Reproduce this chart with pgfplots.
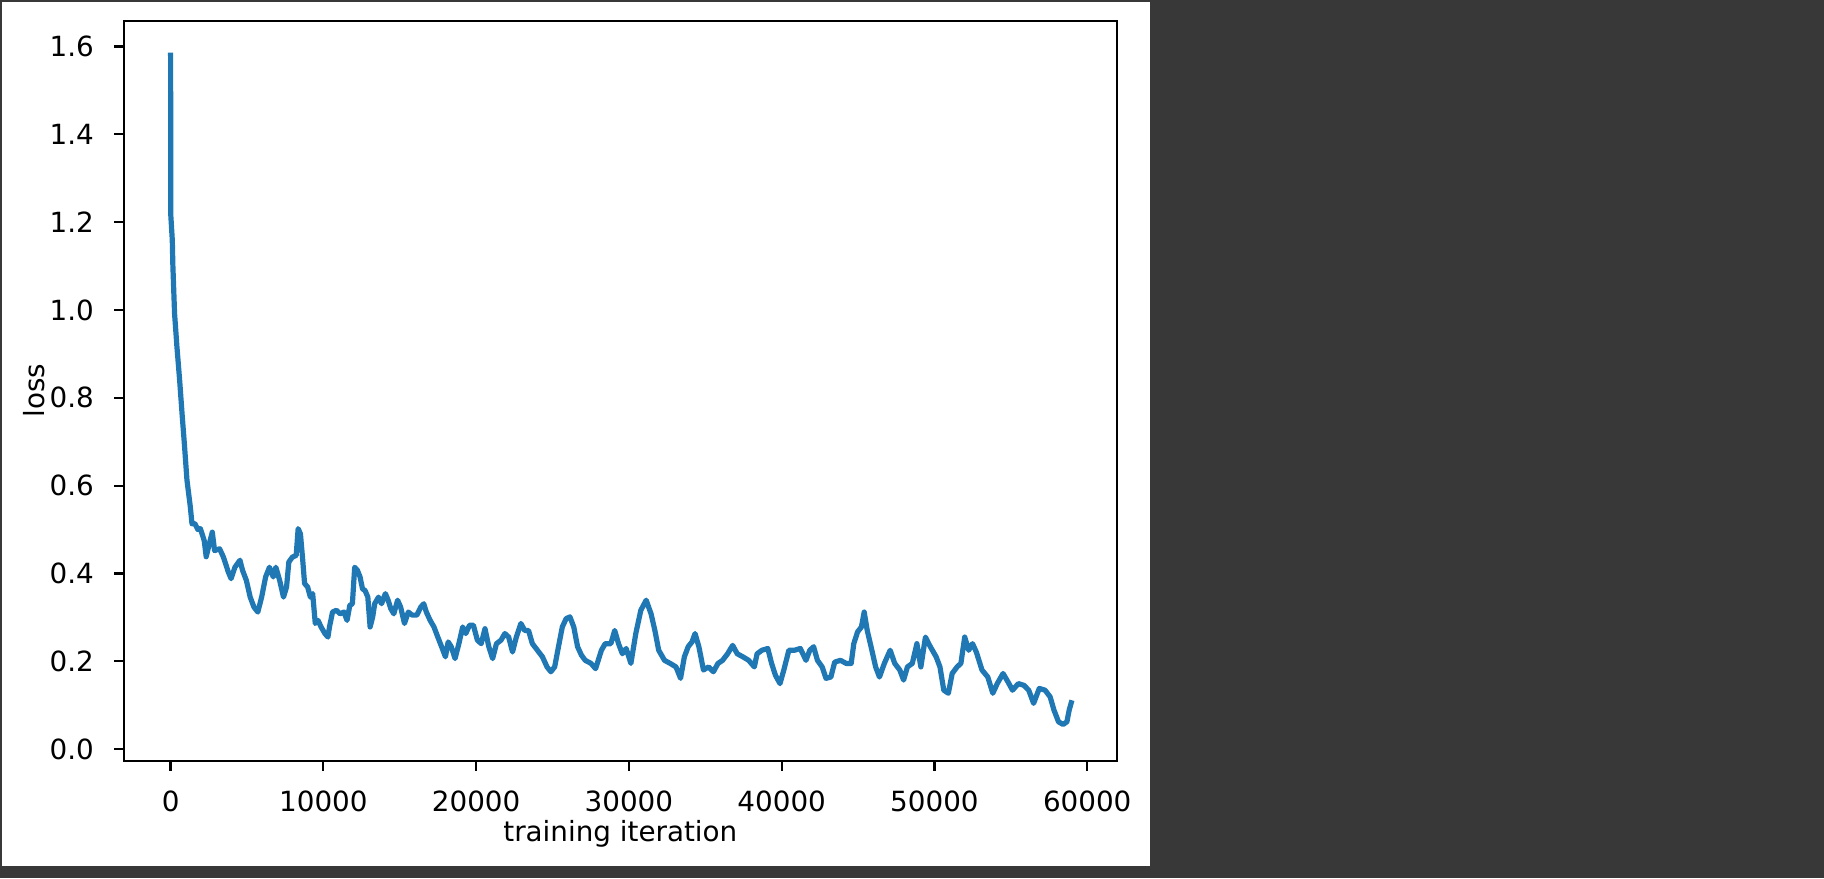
\documentclass[border=0pt]{standalone}
\usepackage{fontspec}
\setmainfont{DejaVu Sans}
\usepackage{pgfplots}
\pgfplotsset{compat=1.18}
\definecolor{bgdark}{HTML}{383838}
\definecolor{mplblue}{HTML}{1F77B4}
\begin{document}
\begin{tikzpicture}
\fill[bgdark] (0pt,0pt) rectangle (912pt,439pt);
\fill[white] (1pt,6pt) rectangle (575pt,438pt);
\begin{axis}[
  at={(62pt,58.5pt)}, anchor=south west,
  width=496.35pt, height=370.15pt, scale only axis,
  xmin=-3050, xmax=61930, ymin=-0.0273, ymax=1.659,
  axis line style={line width=1.1pt},
  tick pos=left, tick align=outside,
  major tick length=4.86pt,
  every tick/.style={black, line width=1.1pt},
  xtick={0,10000,20000,30000,40000,50000,60000},
  ytick={0,0.2,0.4,0.6,0.8,1.0,1.2,1.4,1.6},
  scaled ticks=false,
  /pgf/number format/assume math mode=true,
  xticklabel style={/pgf/number format/1000 sep={}, font=\fontsize{13.9}{16}\selectfont, anchor=north, inner sep=0pt, yshift=-10pt},
  yticklabel style={/pgf/number format/fixed, /pgf/number format/fixed zerofill, /pgf/number format/precision=1, font=\fontsize{13.9}{16}\selectfont, anchor=east, inner sep=0pt, xshift=-10pt},
  xlabel={training iteration},
  ylabel={loss},
  every axis x label/.style={at={(axis description cs:0.5,0)}, anchor=center, yshift=-36.5pt, font=\fontsize{13.9}{16}\selectfont},
  every axis y label/.style={at={(axis description cs:0,0.5)}, anchor=center, rotate=90, yshift=45pt, font=\fontsize{13.9}{16}\selectfont},
]
\addplot[mplblue, line width=2.6pt, line join=round] coordinates {
(0,1.586) (15,1.215) (110,1.16) (150,1.10) (260,0.992) (415,0.916) (590,0.841)
(765,0.757) (915,0.689) (1070,0.613) (1290,0.552) (1400,0.513)
(1580,0.514) (1780,0.500) (1950,0.502) (2200,0.475) (2330,0.438) (2530,0.467)
(2730,0.494) (2880,0.452) (3210,0.456) (3460,0.437) (3780,0.403) (3960,0.388) (4210,0.414)
(4540,0.430) (4710,0.407) (4960,0.384) (5210,0.346) (5460,0.323) (5710,0.312) (5960,0.346)
(6220,0.392) (6470,0.414) (6720,0.392) (6890,0.414) (7140,0.384) (7390,0.346) (7590,0.369)
(7740,0.426) (7970,0.437) (8220,0.441) (8350,0.502) (8500,0.490) (8650,0.430) (8770,0.377)
(8970,0.369) (9150,0.346) (9300,0.354) (9470,0.286) (9650,0.293) (9850,0.278) (10100,0.263)
(10300,0.255) (10400,0.278) (10600,0.312) (10850,0.316) (11100,0.308) (11350,0.312)
(11550,0.293) (11730,0.327) (11900,0.331) (12050,0.414) (12230,0.407) (12400,0.392)
(12560,0.365) (12730,0.361) (12910,0.346) (13060,0.278) (13230,0.301) (13360,0.331)
(13610,0.346) (13810,0.331) (14060,0.354) (14240,0.339) (14410,0.320) (14610,0.308)
(14860,0.339) (15060,0.323) (15310,0.286) (15560,0.312) (15810,0.305) (16120,0.305)
(16370,0.323) (16570,0.331) (16740,0.312) (16990,0.293) (17240,0.278) (17490,0.255)
(17740,0.233) (17990,0.210) (18170,0.244) (18370,0.233) (18620,0.206) (18870,0.240)
(19120,0.278) (19320,0.263) (19570,0.282) (19820,0.282) (20080,0.248) (20330,0.240)
(20580,0.274) (20830,0.233) (21080,0.206) (21330,0.240) (21630,0.248) (21880,0.263)
(22130,0.255) (22380,0.221) (22630,0.255) (22930,0.286) (23180,0.270) (23430,0.270)
(23680,0.240) (24010,0.225) (24340,0.210) (24640,0.187) (24890,0.176) (25140,0.187)
(25390,0.233) (25640,0.278) (25890,0.297) (26140,0.301) (26390,0.278) (26640,0.233)
(26890,0.214) (27140,0.202) (27520,0.195) (27820,0.183) (28200,0.225) (28450,0.240)
(28820,0.240) (29070,0.270) (29320,0.240) (29570,0.217) (29820,0.229) (30130,0.195)
(30450,0.263) (30780,0.316) (31130,0.339) (31450,0.308) (31700,0.270) (31950,0.225)
(32330,0.202) (32700,0.195) (33080,0.187) (33380,0.161) (33630,0.210) (33880,0.233)
(34130,0.244) (34330,0.263) (34580,0.233) (34880,0.180) (35210,0.187) (35530,0.176)
(35830,0.195) (36130,0.202) (36460,0.217) (36790,0.236) (37090,0.217) (37460,0.210)
(37840,0.202) (38210,0.187) (38390,0.217) (38710,0.225) (39090,0.229) (39340,0.195)
(39590,0.168) (39890,0.149) (40140,0.180) (40470,0.225) (40840,0.225) (41220,0.229)
(41590,0.202) (41840,0.225) (42090,0.233) (42340,0.202) (42650,0.187) (42900,0.161)
(43220,0.164) (43470,0.198) (43850,0.202) (44220,0.195) (44550,0.195) (44720,0.240)
(44970,0.267) (45220,0.278) (45400,0.312) (45600,0.270) (45850,0.233) (46150,0.187)
(46400,0.164) (46720,0.195) (47100,0.225) (47400,0.195) (47730,0.180) (47980,0.157)
(48230,0.187) (48550,0.195) (48850,0.240) (49110,0.187) (49410,0.255) (49730,0.233)
(50110,0.210) (50360,0.187) (50610,0.134) (50910,0.127) (51160,0.172) (51480,0.187)
(51730,0.195) (51980,0.255) (52240,0.225) (52490,0.240) (52740,0.221) (53110,0.180)
(53490,0.164) (53820,0.127) (54110,0.149) (54490,0.172) (54810,0.153) (55110,0.134)
(55490,0.149) (55860,0.145) (56170,0.134) (56490,0.104) (56860,0.138) (57240,0.134)
(57570,0.119) (57820,0.089) (58120,0.062) (58420,0.056) (58670,0.062) (58820,0.089)
(59000,0.111)
};
\end{axis}
\end{tikzpicture}
\end{document}
